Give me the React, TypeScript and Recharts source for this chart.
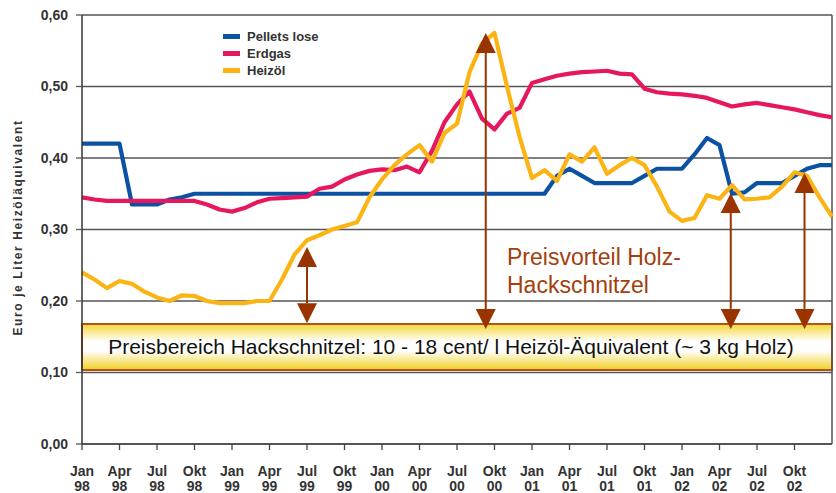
import {
  LineChart,
  Line,
  XAxis,
  YAxis,
  CartesianGrid,
  ReferenceArea,
  ReferenceLine,
  ReferenceDot,
  Legend,
} from "recharts";

// months since Jan 98 (0 = Jan 98 ... 60 = Jan 03), one value per month
const pellets = [
  0.42, 0.42, 0.42, 0.42, 0.335, 0.335, 0.335, 0.342, 0.345, 0.35,
  0.35, 0.35, 0.35, 0.35, 0.35, 0.35, 0.35, 0.35, 0.35, 0.35,
  0.35, 0.35, 0.35, 0.35, 0.35, 0.35, 0.35, 0.35, 0.35, 0.35,
  0.35, 0.35, 0.35, 0.35, 0.35, 0.35, 0.35, 0.35, 0.375, 0.385,
  0.375, 0.365, 0.365, 0.365, 0.365, 0.375, 0.385, 0.385, 0.385, 0.405,
  0.428, 0.418, 0.35, 0.352, 0.365, 0.365, 0.365, 0.375, 0.385, 0.39,
  0.39,
];

const erdgas = [
  0.345, 0.342, 0.34, 0.34, 0.34, 0.34, 0.34, 0.34, 0.34, 0.34,
  0.335, 0.328, 0.325, 0.33, 0.338, 0.343, 0.344, 0.345, 0.346, 0.357,
  0.36, 0.37, 0.377, 0.382, 0.384, 0.383, 0.388, 0.38, 0.41, 0.45,
  0.475, 0.493, 0.455, 0.44, 0.462, 0.47, 0.505, 0.51, 0.515, 0.518,
  0.52, 0.521, 0.522, 0.518, 0.517, 0.497, 0.492, 0.49, 0.489, 0.487,
  0.484, 0.478, 0.472, 0.475, 0.477, 0.474, 0.471, 0.468, 0.464, 0.46,
  0.457,
];

const heizoel = [
  0.24, 0.23, 0.218, 0.228, 0.224, 0.213, 0.205, 0.2, 0.208, 0.207,
  0.2, 0.197, 0.197, 0.197, 0.2, 0.2, 0.23, 0.265, 0.285, 0.292,
  0.3, 0.305, 0.31, 0.345, 0.37, 0.39, 0.405, 0.418, 0.395, 0.435,
  0.448, 0.52, 0.56, 0.575, 0.5, 0.43, 0.372, 0.383, 0.368, 0.405,
  0.395, 0.415, 0.378, 0.39, 0.4, 0.39, 0.36, 0.325, 0.312, 0.316,
  0.348, 0.343, 0.362, 0.342, 0.343, 0.345, 0.36, 0.38, 0.375, 0.345,
  0.318,
];

const tickMonths = [0, 3, 6, 9, 12, 15, 18, 21, 24, 27, 30, 33, 36, 39, 42, 45, 48, 51, 54, 57];
const tickMonthNames = ["Jan", "Apr", "Jul", "Okt", "Jan", "Apr", "Jul", "Okt", "Jan", "Apr", "Jul", "Okt", "Jan", "Apr", "Jul", "Okt", "Jan", "Apr", "Jul", "Okt"];
const tickYears = ["98", "98", "98", "98", "99", "99", "99", "99", "00", "00", "00", "00", "01", "01", "01", "01", "02", "02", "02", "02"];

const yTicks = [0, 0.1, 0.2, 0.3, 0.4, 0.5, 0.6];

const series = [
  { key: "pellets", name: "Pellets lose", color: "#0b52a3" },
  { key: "erdgas", name: "Erdgas", color: "#e6175e" },
  { key: "heizoel", name: "Heizöl", color: "#fbb414" },
];

// price advantage arrows: month, top tip, bottom tip
const arrows = [
  { m: 18, top: 0.2755, bottom: 0.169 },
  { m: 32.3, top: 0.575, bottom: 0.161 },
  { m: 51.9, top: 0.351, bottom: 0.161 },
  { m: 57.8, top: 0.379, bottom: 0.161 },
];

const priceBand = [0.1035, 0.168];

const FONT = "'Liberation Sans', Arial, sans-serif";
const BROWN = "#993300";

const rows = pellets.map((v, i) => ({
  m: i,
  pellets: v,
  erdgas: erdgas[i],
  heizoel: heizoel[i],
}));

function MonthTick({ x, y, payload }: any) {
  const idx = tickMonths.indexOf(payload.value);
  return (
    <text
      x={x}
      y={y + 24}
      textAnchor="middle"
      fontFamily={FONT}
      fontWeight="bold"
      fontSize={14}
      fill="#333"
    >
      <tspan x={x}>{tickMonthNames[idx]}</tspan>
      <tspan x={x} dy={15}>{tickYears[idx]}</tspan>
    </text>
  );
}

function LegendBox() {
  return (
    <div style={{ fontFamily: FONT, fontWeight: "bold", fontSize: 13, color: "#333" }}>
      {series.map((s) => (
        <div key={s.key} style={{ display: "flex", alignItems: "center", height: 17 }}>
          <span style={{ display: "inline-block", width: 17, height: 5, background: s.color, marginRight: 7 }} />
          {s.name}
        </div>
      ))}
    </div>
  );
}

function Arrow(props: any) {
  const { x1, y1, y2 } = props;
  const h = 20;
  const w = 10;
  return (
    <g>
      <line x1={x1} y1={y1 + h} x2={x1} y2={y2 - h} stroke={BROWN} strokeWidth={2} />
      <polygon points={`${x1},${y1} ${x1 - w},${y1 + h} ${x1 + w},${y1 + h}`} fill={BROWN} />
      <polygon points={`${x1},${y2} ${x1 - w},${y2 - h} ${x1 + w},${y2 - h}`} fill={BROWN} />
    </g>
  );
}

function BandLabel({ viewBox }: any) {
  const cx = viewBox.x + viewBox.width / 2 - 6;
  const cy = viewBox.y + viewBox.height / 2;
  return (
    <text x={cx} y={cy} textAnchor="middle" dominantBaseline="central" fontFamily={FONT} fontSize={21} fill="#111">
      Preisbereich Hackschnitzel: 10 - 18 cent/ l Heizöl-Äquivalent (~ 3 kg Holz)
    </text>
  );
}

function AdvantageText({ cx, cy }: any) {
  return (
    <text x={cx} y={cy} fontFamily={FONT} fontSize={23} fill="#a33f0c">
      <tspan x={cx}>Preisvorteil Holz-</tspan>
      <tspan x={cx} dy={28}>Hackschnitzel</tspan>
    </text>
  );
}

function YLabel({ viewBox }: any) {
  const cy = viewBox.y + viewBox.height / 2 - 2;
  return (
    <text
      transform={`translate(18, ${cy}) rotate(-90)`}
      textAnchor="middle"
      dominantBaseline="central"
      fontFamily={FONT}
      fontWeight="bold"
      fontSize={12}
      letterSpacing={1.6}
      fill="#333"
    >
      Euro je Liter Heizöläquivalent
    </text>
  );
}

export default function App() {
  return (
    <div style={{ position: "absolute", left: 0, top: 0 }}>
      <LineChart width={836} height={493} data={rows} margin={{ top: 15, right: 4, bottom: 0, left: 0 }}>
        <defs>
          <linearGradient id="bandFill" x1="0" y1="0" x2="0" y2="1">
            <stop offset="0%" stopColor="#f4d733" />
            <stop offset="38%" stopColor="#ffffff" />
            <stop offset="58%" stopColor="#ffffff" />
            <stop offset="100%" stopColor="#f2d020" />
          </linearGradient>
        </defs>
        <CartesianGrid vertical={false} stroke="#555" strokeWidth={1.3} />
        <XAxis
          dataKey="m"
          type="number"
          domain={[0, 60]}
          ticks={tickMonths}
          interval={0}
          height={49}
          tick={<MonthTick />}
          tickSize={6}
          axisLine={{ stroke: "#555", strokeWidth: 2 }}
          tickLine={{ stroke: "#444", strokeWidth: 1.3 }}
        />
        <YAxis
          type="number"
          domain={[0, 0.6]}
          ticks={yTicks}
          width={82}
          tickSize={6}
          tickMargin={8}
          tickFormatter={(v: number) => v.toFixed(2).replace(".", ",")}
          tick={{ fontFamily: FONT, fontWeight: "bold", fontSize: 14, fill: "#333" }}
          axisLine={{ stroke: "#333", strokeWidth: 1.5 }}
          tickLine={{ stroke: "#555", strokeWidth: 1.3 }}
          label={<YLabel />}
        />
        <ReferenceLine x={60} stroke="#555" strokeWidth={1.5} />
        <Legend
          layout="vertical"
          align="center"
          verticalAlign="middle"
          content={<LegendBox />}
          wrapperStyle={{ left: 223, top: 28, width: "auto" }}
        />
        {series.map((s) => (
          <Line
            key={s.key}
            dataKey={s.key}
            name={s.name}
            type="linear"
            stroke={s.color}
            strokeWidth={4.2}
            strokeLinejoin="round"
            dot={false}
            activeDot={false}
            isAnimationActive={false}
          />
        ))}
        <ReferenceArea
          x1={0}
          x2={60}
          y1={priceBand[0]}
          y2={priceBand[1]}
          fill="url(#bandFill)"
          fillOpacity={1}
          stroke="#b4521c"
          strokeWidth={2}
          label={<BandLabel />}
          ifOverflow="visible"
        />
        {arrows.map((a, i) => (
          <ReferenceLine
            key={i}
            segment={[
              { x: a.m, y: a.top },
              { x: a.m, y: a.bottom },
            ]}
            shape={<Arrow />}
            ifOverflow="visible"
          />
        ))}
        <ReferenceDot x={34} y={0.25} r={0} shape={<AdvantageText />} ifOverflow="visible" />
      </LineChart>
    </div>
  );
}
